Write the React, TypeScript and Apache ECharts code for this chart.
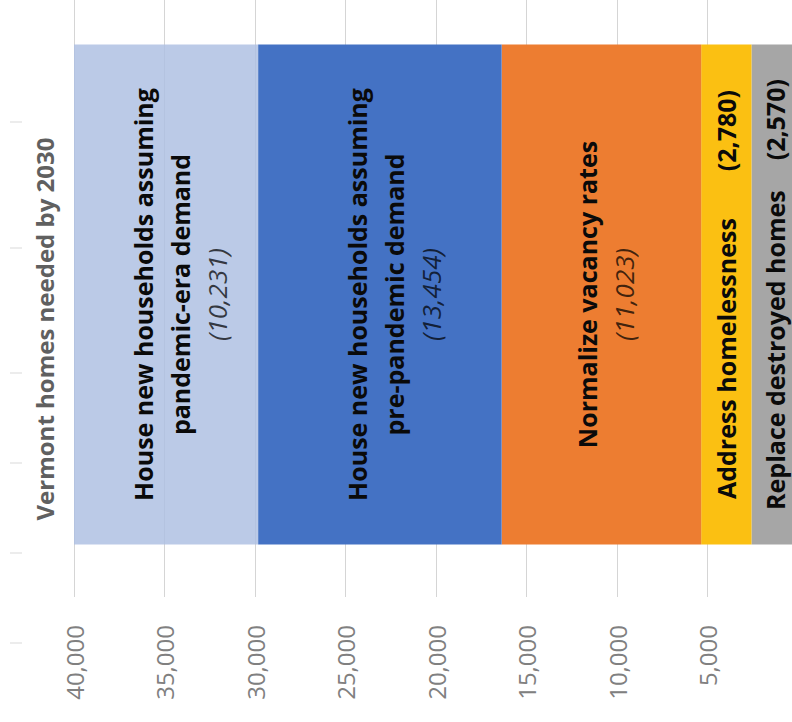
import React, { useEffect, useRef } from 'react';
import * as echarts from 'echarts';

// ---- data ----
const chartTitle = 'Vermont homes needed by 2030';
const categories = ['Homes needed'];
const segmentNames = [
  'Replace destroyed homes',
  'Address homelessness',
  'Normalize vacancy rates',
  'House new households assuming pre-pandemic demand',
  'House new households assuming pandemic-era demand',
];
const segmentValues = [2570, 2780, 11023, 13454, 10231];
const axisMin = 0;
const axisMax = 40000;
const axisStep = 5000;

// ---- styles ----
const segmentColors = ['#A6A6A6', '#FBC012', '#ED7D31', '#4472C4', 'rgba(172,190,226,0.82)'];
const FONT = '"Open Sans", "DejaVu Sans", sans-serif';

const fmt = (v: number) => v.toLocaleString('en-US');

const richBase = {
  b: { fontFamily: FONT, fontSize: 25, fontWeight: 'bold', color: '#0a0a0a', lineHeight: 37 },
  i: { fontFamily: FONT, fontSize: 26, fontStyle: 'italic', color: 'rgba(0,0,0,0.72)', lineHeight: 37 },
};

const labelFormatters: ((v: number) => string)[] = [
  (v) => `{b|Replace destroyed homes}{g|}{b|(${fmt(v)})}`,
  (v) => `{b|Address homelessness}{g|}{b|(${fmt(v)})}`,
  (v) => `{b|Normalize vacancy rates}\n{i|(${fmt(v)})}`,
  (v) => `{b|House new households assuming}\n{b|pre-pandemic demand}\n{i|(${fmt(v)})}`,
  (v) => `{b|House new households assuming}\n{b|pandemic-era demand}\n{i|(${fmt(v)})}`,
];
const gapWidths = [30, 47, 0, 0, 0];
const labelOffsets = [[0, 0], [0, 0], [0, 4], [0, 14], [0, 14]];

const sideMarksY = [122, 248, 373, 463, 553, 643];

export default function App() {
  const ref = useRef<HTMLDivElement>(null);
  useEffect(() => {
    if (!ref.current) return;
    const chart = echarts.init(ref.current, undefined, { renderer: 'svg' });
    const series = segmentNames.map((name, idx) => ({
      name,
      type: 'bar',
      stack: 'total',
      barWidth: 500,
      data: [segmentValues[idx]],
      itemStyle: { color: segmentColors[idx] },
      label: {
        show: true,
        position: 'inside',
        rotate: 90,
        offset: labelOffsets[idx],
        formatter: (p: any) => labelFormatters[idx](p.value),
        rich: {
          ...richBase,
          g: { width: gapWidths[idx] },
        },
      },
    }));
    chart.setOption({
      animation: false,
      backgroundColor: '#ffffff',
      grid: { left: 74, right: -6, top: -8, bottom: 125, containLabel: false, outerBoundsMode: 'none' },
      xAxis: {
        type: 'value',
        inverse: true,
        min: axisMin,
        max: axisMax,
        interval: axisStep,
        axisLine: { show: false },
        axisTick: { show: false },
        splitLine: { show: true, lineStyle: { color: '#D5D5D5', width: 1 } },
        axisLabel: {
          rotate: 90,
          margin: 28,
          showMinLabel: false,
          fontFamily: FONT,
          fontSize: 24,
          color: '#808080',
          formatter: (v: number) => fmt(v),
        },
      },
      yAxis: {
        type: 'category',
        data: categories,
        axisLine: { show: false },
        axisTick: { show: false },
        axisLabel: { show: false },
        splitLine: { show: false },
      },
      series,
      graphic: [
        {
          type: 'text',
          x: 44,
          y: 329,
          rotation: Math.PI / 2,
          style: {
            text: chartTitle,
            fontFamily: FONT,
            fontSize: 24,
            fontWeight: 'bold',
            fill: '#606060',
            align: 'center',
            verticalAlign: 'middle',
            textAlign: 'center',
            textVerticalAlign: 'middle',
          },
        },
        ...sideMarksY.map((y) => ({
          type: 'line',
          shape: { x1: 10, y1: y, x2: 22, y2: y },
          style: { stroke: '#E6E6E6', lineWidth: 1.5 },
        })),
      ],
    });
    return () => chart.dispose();
  }, []);
  return (
    <div
      ref={ref}
      style={{ position: 'fixed', left: 0, top: 0, width: 792, height: 722 }}
    />
  );
}
